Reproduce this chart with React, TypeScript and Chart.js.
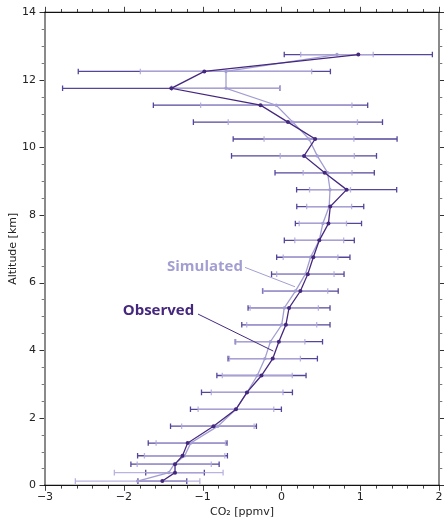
import React, { useEffect, useRef } from 'react';
import { Chart, registerables } from 'chart.js';

Chart.register(...registerables);

// Altitude levels [km]
const altitudes = [0.125, 0.375, 0.625, 0.875, 1.25, 1.75, 2.25, 2.75, 3.25, 3.75, 4.25, 4.75, 5.25, 5.75, 6.25, 6.75, 7.25, 7.75, 8.25, 8.75, 9.25, 9.75, 10.25, 10.75, 11.25, 11.75, 12.25, 12.75];

// Observed CO2 anomaly [ppmv] and its error
const observed = [-1.511, -1.35, -1.35, -1.255, -1.19, -0.862, -0.577, -0.437, -0.253, -0.11, -0.032, 0.057, 0.097, 0.241, 0.335, 0.405, 0.481, 0.597, 0.62, 0.828, 0.549, 0.287, 0.428, 0.083, -0.265, -1.397, -0.978, 0.976];
const observedErr = [0.31, 0.372, 0.56, 0.57, 0.5, 0.545, 0.577, 0.577, 0.566, 0.567, 0.554, 0.56, 0.52, 0.48, 0.46, 0.465, 0.444, 0.42, 0.425, 0.635, 0.63, 0.92, 1.04, 1.2, 1.36, 1.38, 1.6, 0.94];

// Simulated CO2 anomaly [ppmv] and its error
const simulated = [-1.825, -1.43, -1.36, -1.228, -1.15, -0.806, -0.577, -0.435, -0.306, -0.209, -0.14, 0.004, 0.036, 0.178, 0.304, 0.37, 0.48, 0.526, 0.606, 0.617, 0.586, 0.455, 0.35, 0.145, -0.065, -0.703, -0.703, 0.705];
const simulatedErr = [0.79, 0.69, 0.47, 0.51, 0.44, 0.46, 0.48, 0.455, 0.444, 0.45, 0.438, 0.444, 0.433, 0.41, 0.364, 0.347, 0.31, 0.3, 0.285, 0.26, 0.31, 0.47, 0.57, 0.82, 0.96, 0.69, 1.087, 0.46];

// Axis ticks
const xMajorTicks = [-3, -2, -1, 0, 1, 2];
const yMajorTicks = [0, 2, 4, 6, 8, 10, 12, 14];

// Annotation labels (data coordinates)
const labelSimulated = { text: 'Simulated', x: -1.452, y: 6.35, lineFrom: [-0.462, 6.45], lineTo: [0.173, 5.876] };
const labelObserved = { text: 'Observed', x: -2.014, y: 5.04, lineFrom: [-1.058, 5.068], lineTo: [-0.103, 3.973] };

const OBS_COLOR = '#45287e';
const OBS_BAR = '#56469a';
const SIM_COLOR = '#a39ed2';
const SIM_BAR = 'rgba(176,171,220,0.9)';

const fmt = (v: number) => (v < 0 ? '\u2212' + Math.abs(v) : String(v));

export default function App() {
  const ref = useRef<HTMLCanvasElement>(null);

  useEffect(() => {
    const canvas = ref.current;
    if (!canvas) return;

    const errorBars = {
      id: 'errorBars',
      beforeDatasetsDraw(chart: any) {
        const { ctx, scales } = chart;
        const xs = scales.x;
        const ys = scales.y;
        const drawSet = (vals: number[], errs: number[], color: string, lw: number) => {
          ctx.save();
          ctx.strokeStyle = color;
          ctx.lineWidth = lw;
          for (let i = 0; i < altitudes.length; i++) {
            const py = ys.getPixelForValue(altitudes[i]);
            const x1 = xs.getPixelForValue(vals[i] - errs[i]);
            const x2 = xs.getPixelForValue(vals[i] + errs[i]);
            ctx.beginPath();
            ctx.moveTo(x1, py);
            ctx.lineTo(x2, py);
            ctx.moveTo(x1, py - 2.8);
            ctx.lineTo(x1, py + 2.8);
            ctx.moveTo(x2, py - 2.8);
            ctx.lineTo(x2, py + 2.8);
            ctx.stroke();
          }
          ctx.restore();
        };
        drawSet(observed, observedErr, OBS_BAR, 1.3);
        drawSet(simulated, simulatedErr, SIM_BAR, 1.3);
      },
    };

    const axesDeco = {
      id: 'axesDeco',
      afterDraw(chart: any) {
        const { ctx, chartArea, scales } = chart;
        const { left, right, top, bottom } = chartArea;
        const xs = scales.x;
        const ys = scales.y;
        ctx.save();
        const tick = (x1: number, y1: number, x2: number, y2: number, color: string, w: number) => {
          ctx.strokeStyle = color;
          ctx.lineWidth = w;
          ctx.beginPath();
          ctx.moveTo(x1, y1);
          ctx.lineTo(x2, y2);
          ctx.stroke();
        };
        for (let k = 0; k <= 25; k++) {
          const v = -3 + k * 0.2;
          const px = Math.round(xs.getPixelForValue(v)) + 0.5;
          const major = xMajorTicks.some((m) => Math.abs(m - v) < 1e-6);
          const len = major ? 5.5 : 3.3;
          tick(px, bottom, px, bottom + len, '#444', 1);
          tick(px, top, px, top - len, '#444', 1);
        }
        for (let k = 0; k <= 28; k++) {
          const v = k * 0.5;
          const py = Math.round(ys.getPixelForValue(v)) + 0.5;
          const major = yMajorTicks.some((m) => Math.abs(m - v) < 1e-6);
          const len = major ? 5.5 : 3.3;
          tick(left, py, left - len, py, major ? '#333' : '#777', 1);
          tick(right, py, right + len, py, major ? '#333' : '#777', 1);
        }
        tick(left, top, left, bottom, '#8a8a8a', 2);
        tick(right, top, right, bottom, '#8a8a8a', 2);
        tick(left - 1, top, right + 1, top, '#111', 1.3);
        tick(left - 1, bottom, right + 1, bottom, '#111', 1.3);
        ctx.restore();
      },
    };

    const annotations = {
      id: 'annotations',
      afterDatasetsDraw(chart: any) {
        const { ctx, scales } = chart;
        const xs = scales.x;
        const ys = scales.y;
        const drawLabel = (lab: any, color: string) => {
          ctx.save();
          ctx.strokeStyle = color;
          ctx.lineWidth = 1;
          ctx.beginPath();
          ctx.moveTo(xs.getPixelForValue(lab.lineFrom[0]), ys.getPixelForValue(lab.lineFrom[1]));
          ctx.lineTo(xs.getPixelForValue(lab.lineTo[0]), ys.getPixelForValue(lab.lineTo[1]));
          ctx.stroke();
          ctx.fillStyle = color;
          ctx.font = 'bold 15px "Open Sans"';
          ctx.textAlign = 'left';
          ctx.textBaseline = 'alphabetic';
          ctx.fillText(lab.text, xs.getPixelForValue(lab.x), ys.getPixelForValue(lab.y));
          ctx.restore();
        };
        drawLabel(labelSimulated, SIM_COLOR);
        drawLabel(labelObserved, OBS_COLOR);
      },
    };

    const chart = new Chart(canvas, {
      type: 'scatter',
      data: {
        datasets: [
          {
            label: 'Simulated',
            data: altitudes.map((a, i) => ({ x: simulated[i], y: a })),
            showLine: true,
            borderColor: SIM_COLOR,
            backgroundColor: SIM_COLOR,
            borderWidth: 1.3,
            pointRadius: 1.7,
            pointBorderWidth: 0,
            order: 2,
          },
          {
            label: 'Observed',
            data: altitudes.map((a, i) => ({ x: observed[i], y: a })),
            showLine: true,
            borderColor: OBS_COLOR,
            backgroundColor: OBS_COLOR,
            borderWidth: 1.3,
            pointRadius: 2,
            pointBorderWidth: 0,
            order: 1,
          },
        ],
      },
      options: {
        animation: false,
        responsive: false,
        maintainAspectRatio: false,
        layout: { padding: { top: 12.3, right: 5, left: 0, bottom: 0 } },
        plugins: {
          legend: { display: false },
          tooltip: { enabled: false },
        },
        scales: {
          x: {
            type: 'linear',
            min: -3,
            max: 2,
            afterFit: (s: any) => {
              s.height = 33.7;
              s.paddingLeft = 0;
              s.paddingRight = 0;
            },
            afterBuildTicks: (s: any) => {
              s.ticks = xMajorTicks.map((v) => ({ value: v }));
            },
            ticks: {
              callback: (v: any) => fmt(Number(v)),
              font: { family: 'DejaVu Sans', size: 11 },
              color: '#222',
              padding: 5,
              maxRotation: 0,
            },
            grid: { display: false, drawTicks: false },
            border: { display: false },
            title: {
              display: true,
              text: 'CO\u2082 [ppmv]',
              font: { family: 'DejaVu Sans', size: 11 },
              color: '#222',
              padding: { top: 0, bottom: 0 },
            },
          },
          y: {
            type: 'linear',
            min: 0,
            max: 14,
            afterFit: (s: any) => {
              s.width = 45;
              s.paddingTop = 0;
              s.paddingBottom = 0;
            },
            afterBuildTicks: (s: any) => {
              s.ticks = yMajorTicks.map((v) => ({ value: v }));
            },
            ticks: {
              callback: (v: any) => fmt(Number(v)),
              font: { family: 'DejaVu Sans', size: 11 },
              color: '#222',
              padding: 9,
            },
            grid: { display: false, drawTicks: false },
            border: { display: false },
            title: {
              display: true,
              text: 'Altitude [km]',
              font: { family: 'DejaVu Sans', size: 11 },
              color: '#222',
              padding: { top: 7, bottom: 0 },
            },
          },
        },
      },
      plugins: [errorBars, annotations, axesDeco],
    });

    return () => chart.destroy();
  }, []);

  return (
    <div style={{ position: 'fixed', left: 0, top: 0, width: 444, height: 519, background: '#fff' }}>
      <canvas ref={ref} width={444} height={519} style={{ width: 444, height: 519, display: 'block' }} />
    </div>
  );
}
